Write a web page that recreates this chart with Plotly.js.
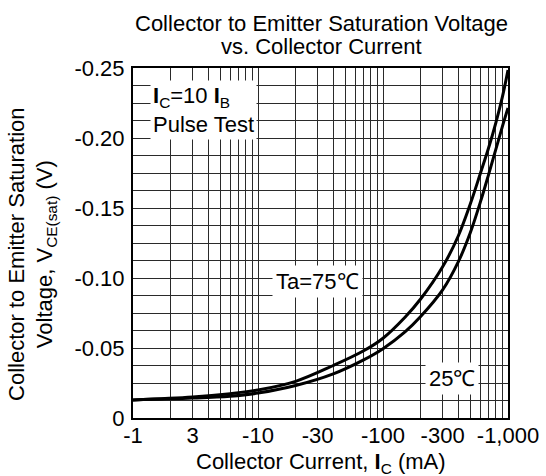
<!DOCTYPE html>
<html>
<head>
<meta charset="utf-8">
<script src="https://cdn.plot.ly/plotly-3.0.1.min.js"></script>
<style>html,body{margin:0;padding:0;background:#fff}#chart{width:546px;height:476px}</style>
</head>
<body>
<div id="chart"></div>
<script>
// Collector current (mA, magnitude) and VCE(sat) (V)
var ic75 = [1, 3, 6, 10, 20, 40, 70, 100, 150, 200, 300, 400, 500, 600, 700, 800, 900, 1000];
var vce75 = [-0.0129, -0.0150, -0.0174, -0.0200, -0.0262, -0.0375, -0.0480, -0.0570, -0.0720, -0.0850, -0.1080, -0.1300, -0.1530, -0.1745, -0.1930, -0.2110, -0.2290, -0.2486];
var ic25 = [1, 3, 6, 10, 20, 40, 70, 100, 150, 200, 300, 400, 500, 600, 700, 800, 900, 1000];
var vce25 = [-0.0129, -0.0142, -0.0156, -0.0178, -0.0232, -0.0315, -0.0415, -0.0495, -0.0615, -0.0725, -0.0915, -0.1115, -0.1325, -0.1540, -0.1740, -0.1920, -0.2080, -0.2215];

var xTickVals = [1, 3, 10, 30, 100, 300, 1000];
var xTickText = ['-1', '3', '-10', '-30', '-100', '-300', '-1,000'];
var yTickVals = [0, -0.05, -0.10, -0.15, -0.20, -0.25];
var yTickText = ['0', '-0.05', '-0.10', '-0.15', '-0.20', '-0.25'];

// minor grid positions (styling)
var xMinor = [];
for (var d = 1; d <= 100; d *= 10) {
  for (var m = 2; m <= 9; m++) { if (m !== 3) xMinor.push(m * d); }
}
var yMinor = [];
for (var i = 1; i < 20; i++) { if (i % 4 !== 0) yMinor.push(-i * 0.0125); }

var F = 'Liberation Sans, Arial, sans-serif';
var FS = 22;
var GC = '#2a2a2a';

var traces = [
  {x: ic75, y: vce75, mode: 'lines', line: {color: '#000', width: 3, shape: 'spline', smoothing: 1}, hoverinfo: 'none'},
  {x: ic25, y: vce25, mode: 'lines', line: {color: '#000', width: 3, shape: 'spline', smoothing: 1}, hoverinfo: 'none'}
];

var layout = {
  width: 546, height: 476,
  margin: {l: 133, r: 38, t: 68, b: 58},
  paper_bgcolor: '#fff', plot_bgcolor: '#fff',
  showlegend: false,
  font: {family: F, size: FS, color: '#000'},
  xaxis: {
    type: 'log', range: [0, 3],
    tickmode: 'array', tickvals: xTickVals, ticktext: xTickText,
    ticks: '', ticklabelstandoff: -3,
    showgrid: true, gridcolor: GC, gridwidth: 1,
    minor: {tickmode: 'array', tickvals: xMinor, showgrid: true, gridcolor: GC, gridwidth: 1, ticks: ''},
    showline: true, mirror: true, linecolor: '#000', linewidth: 2,
    zeroline: false, tickfont: {family: F, size: FS, color: '#000'}
  },
  yaxis: {
    range: [0, -0.25],
    tickmode: 'array', tickvals: yTickVals, ticktext: yTickText,
    ticks: 'outside', ticklen: 2, tickcolor: 'rgba(0,0,0,0)',
    showgrid: true, gridcolor: GC, gridwidth: 1,
    minor: {tickmode: 'array', tickvals: yMinor, showgrid: true, gridcolor: GC, gridwidth: 1, ticks: ''},
    showline: true, mirror: true, linecolor: '#000', linewidth: 2,
    zeroline: false, tickfont: {family: F, size: FS, color: '#000'}
  },
  annotations: [
    {xref: 'paper', yref: 'paper', x: 0.502, y: 1.127, text: 'Collector to Emitter Saturation Voltage', showarrow: false, xanchor: 'center', yanchor: 'middle', font: {family: F, size: FS}},
    {xref: 'paper', yref: 'paper', x: 0.502, y: 1.060, text: 'vs. Collector Current', showarrow: false, xanchor: 'center', yanchor: 'middle', font: {family: F, size: FS}},
    {xref: 'paper', yref: 'paper', x: 0.5, y: -0.13, text: 'Collector Current, <b>I</b><sub>C</sub> (mA)', showarrow: false, xanchor: 'center', yanchor: 'middle', font: {family: F, size: FS}},
    {xref: 'paper', yref: 'paper', x: -0.27, y: 0.468, text: 'Collector to Emitter Saturation<br>Voltage, V<sub>CE(sat)</sub> (V)', showarrow: false, textangle: -90, xanchor: 'center', yanchor: 'middle', align: 'center', font: {family: F, size: FS}},
    {xref: 'paper', yref: 'paper', x: 0.045, y: 0.965, text: '<b>I</b><sub>C</sub>=10 <b>I</b><sub>B</sub><br>Pulse Test', showarrow: false, xanchor: 'left', yanchor: 'top', align: 'left', bgcolor: '#fff', borderpad: 2, font: {family: F, size: FS}},
    {xref: 'paper', yref: 'paper', x: 0.493, y: 0.389, text: 'Ta=75\u2103', showarrow: false, xanchor: 'center', yanchor: 'middle', bgcolor: '#fff', borderpad: 3, font: {family: F, size: FS}},
    {xref: 'paper', yref: 'paper', x: 0.851, y: 0.114, text: '25\u2103', showarrow: false, xanchor: 'center', yanchor: 'middle', bgcolor: '#fff', borderpad: 3, font: {family: F, size: FS}}
  ]
};

Plotly.newPlot('chart', traces, layout, {staticPlot: true, displayModeBar: false});
</script>
</body>
</html>
